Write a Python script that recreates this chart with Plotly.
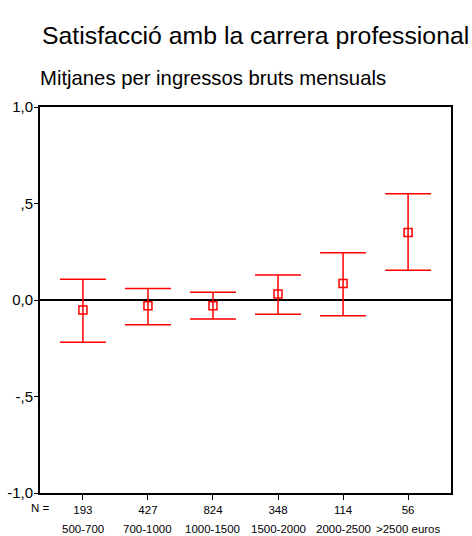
import plotly.graph_objects as go

# Data
incomes = ['500-700', '700-1000', '1000-1500', '1500-2000', '2000-2500', '>2500 euros']
n_counts = ['193', '427', '824', '348', '114', '56']
means = [-0.052, -0.03, -0.03, 0.031, 0.085, 0.35]
upper = [0.107, 0.06, 0.04, 0.13, 0.245, 0.55]
lower = [-0.219, -0.128, -0.098, -0.074, -0.081, 0.154]
y_ticks = [-1.0, -0.5, 0.0, 0.5, 1.0]
y_tick_labels = ['-1,0', '-,5', '0,0', ',5', '1,0']

xpos = list(range(len(incomes)))
err_plus = [u - m for u, m in zip(upper, means)]
err_minus = [m - l for m, l in zip(means, lower)]

fig = go.Figure()
fig.add_trace(go.Scatter(
    x=xpos, y=means, mode='markers',
    marker=dict(symbol='square-open', size=8, color='red', line=dict(width=1.5, color='red')),
    error_y=dict(type='data', symmetric=False, array=err_plus, arrayminus=err_minus,
                 color='red', thickness=1.5, width=23),
    showlegend=False,
))

# income labels under the N counts
for i, lab in enumerate(incomes):
    fig.add_annotation(x=i, y=0, xref='x', yref='paper', text=lab, showarrow=False,
                       yanchor='middle', yshift=-36, font=dict(size=11.5, color='black'))
fig.add_annotation(x=0, y=0, xref='paper', yref='paper', text='N =', showarrow=False,
                   xanchor='center', yanchor='middle', yshift=-15,
                   font=dict(size=11.5, color='black'))

# subtitle
fig.add_annotation(x=-0.005, y=(536 - 78 - 43) / 386, xref='paper', yref='paper',
                   text='Mitjanes per ingressos bruts mensuals', showarrow=False,
                   xanchor='left', yanchor='middle', font=dict(size=20.3, color='black'))

fig.update_layout(
    width=472, height=536,
    margin=dict(l=40, r=21, t=107, b=43, autoexpand=False),
    paper_bgcolor='white', plot_bgcolor='white',
    font=dict(family='Arial, Liberation Sans, sans-serif', color='black'),
    title=dict(text='Satisfacció amb la carrera professional', x=42 / 472, xanchor='left',
               y=1 - 35 / 536, yanchor='middle', yref='container', xref='container',
               font=dict(size=24.8, color='black')),
    xaxis=dict(range=[-0.66, 5.66], tickvals=xpos, ticktext=n_counts, ticks='outside',
               ticklen=5, tickcolor='black', showgrid=False, zeroline=False,
               showline=True, linecolor='black', linewidth=1.5, mirror=True,
               tickfont=dict(size=11.5)),
    yaxis=dict(range=[-1, 1], tickvals=y_ticks, ticktext=y_tick_labels, ticks='outside',
               ticklen=4, tickcolor='black', showgrid=False, zeroline=True,
               zerolinecolor='black', zerolinewidth=1.5,
               showline=True, linecolor='black', linewidth=2, mirror=True,
               ticklabelstandoff=-2, tickfont=dict(size=15)),
)

fig.write_html('out.html', config={'displayModeBar': False},
               post_script="document.body.style.margin='0';")
